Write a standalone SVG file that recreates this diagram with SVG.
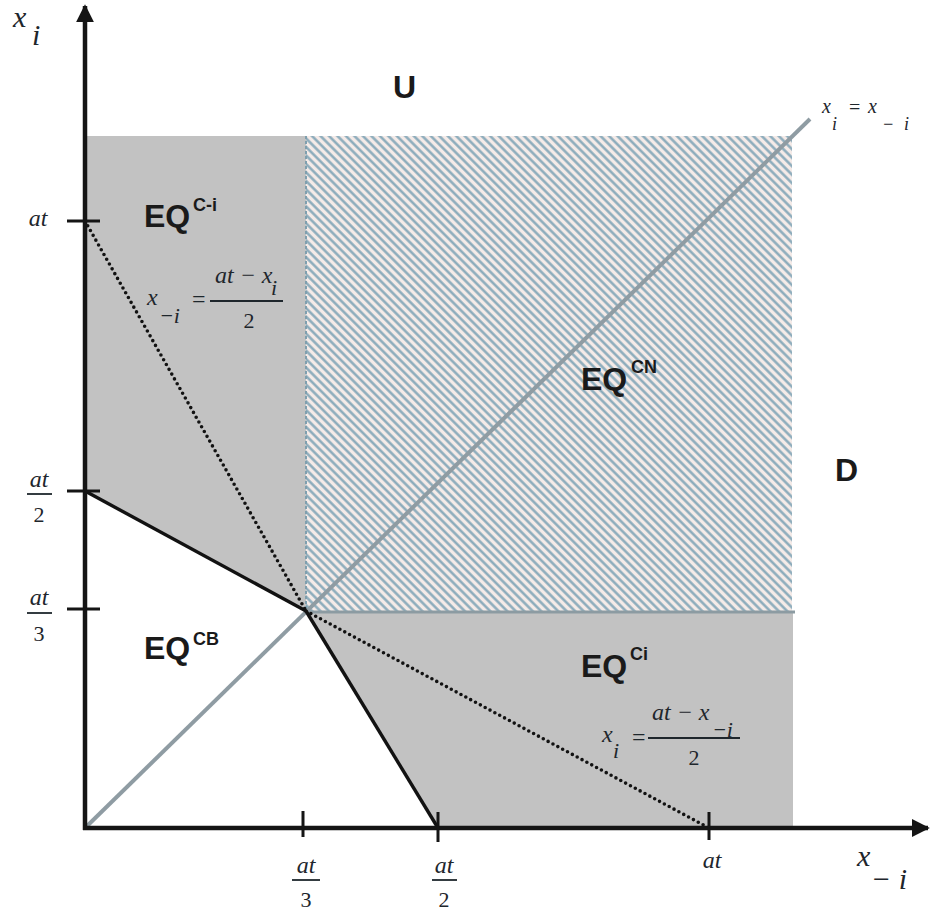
<svg xmlns="http://www.w3.org/2000/svg" width="932" height="915" viewBox="0 0 932 915">
<style>
.eq{font-family:"Liberation Sans",Arial,sans-serif;font-weight:bold;font-size:32px;fill:#1a1a1a}
.sup{font-family:"Liberation Sans",Arial,sans-serif;font-weight:bold;font-size:18px;fill:#1a1a1a}
.big{font-family:"Liberation Sans",Arial,sans-serif;font-weight:bold;font-size:32px;fill:#1a1a1a}
.m{font-family:"Liberation Serif","Times New Roman",serif;font-style:italic;fill:#1e262c}
.n{font-family:"Liberation Serif","Times New Roman",serif;fill:#1e262c}
.axis{stroke:#151515;stroke-width:4.5;fill:none}
.tick{stroke:#151515;stroke-width:3;fill:none}
.bar{stroke:#1e262c;stroke-width:1.8}
.solid{stroke:#121212;stroke-width:3.4;fill:none}
.dot{stroke:#121212;stroke-width:3.6;stroke-linecap:round;stroke-dasharray:0 5.5;fill:none}
.diag{stroke:#8f9ca3;stroke-width:4;fill:none}
.gray{fill:#c2c2c2}
</style>
<defs>
<pattern id="hatch" patternUnits="userSpaceOnUse" width="6" height="6" patternTransform="rotate(45)">
<rect width="6" height="6" fill="#f5ebe8"/>
<line x1="0" y1="1.5" x2="6" y2="1.5" stroke="#86a8b9" stroke-width="2.4"/>
</pattern>
<marker id="arr" viewBox="0 0 10 10" refX="9" refY="5" markerWidth="4" markerHeight="4" orient="auto" markerUnits="strokeWidth">
<path d="M0,0 L10,5 L0,10 z" fill="#151515"/>
</marker>
</defs>
<rect width="932" height="915" fill="#ffffff"/>
<g id="regions">
<polygon id="region-EQC-i" class="gray" points="85,136 306,136 306,611 85,491"/>
<polygon id="region-EQCi" class="gray" points="306,611 793,611 793,828 438,828"/>
<rect id="region-EQCN" x="306" y="136" width="486" height="475" fill="url(#hatch)"/>
<line x1="306" y1="136" x2="306" y2="611" stroke="#7f9fae" stroke-width="2" stroke-dasharray="3 2"/>
<line x1="306" y1="612" x2="795" y2="612" stroke="#8c9ba2" stroke-width="3"/>
</g>
<g id="connectors">
<line class="diag" x1="85" y1="828" x2="810" y2="119"/>
<line class="solid" x1="85" y1="491" x2="306" y2="611"/>
<line class="solid" x1="306" y1="611" x2="438" y2="828"/>
<line class="dot" x1="85" y1="221" x2="306" y2="611"/>
<line class="dot" x1="306" y1="611" x2="709" y2="828"/>
</g>
<g id="axes">
<line class="axis" x1="85" y1="830" x2="85" y2="6" marker-end="url(#arr)"/>
<line class="axis" x1="83" y1="828" x2="928" y2="828" marker-end="url(#arr)"/>
<line class="tick" x1="67" y1="221" x2="100" y2="221"/>
<line class="tick" x1="67" y1="491" x2="100" y2="491"/>
<line class="tick" x1="67" y1="609" x2="100" y2="609"/>
<line class="tick" x1="303" y1="811" x2="303" y2="837"/>
<line class="tick" x1="438" y1="812" x2="438" y2="842"/>
<line class="tick" x1="709" y1="812" x2="709" y2="840"/>
</g>
<g id="axis-labels">
<text class="m" x="13" y="27" font-size="30">x</text>
<text class="m" x="32" y="45" font-size="30">i</text>
<text class="m" x="857" y="866" font-size="30">x</text>
<text class="m" x="871" y="889" font-size="30" textLength="36" lengthAdjust="spacing">−i</text>
</g>
<g id="tick-labels">
<text class="m" x="38" y="226" font-size="24" text-anchor="middle">at</text>
<text class="m" x="39" y="487" font-size="24" text-anchor="middle">at</text>
<line class="bar" x1="27" y1="494" x2="52" y2="494"/>
<text class="n" x="39" y="522" font-size="22" text-anchor="middle">2</text>
<text class="m" x="39" y="605" font-size="24" text-anchor="middle">at</text>
<line class="bar" x1="27" y1="613" x2="52" y2="613"/>
<text class="n" x="39" y="641" font-size="22" text-anchor="middle">3</text>
<text class="m" x="306" y="873" font-size="24" text-anchor="middle">at</text>
<line class="bar" x1="292" y1="880" x2="320" y2="880"/>
<text class="n" x="306" y="907" font-size="22" text-anchor="middle">3</text>
<text class="m" x="444" y="873" font-size="24" text-anchor="middle">at</text>
<line class="bar" x1="432" y1="880" x2="457" y2="880"/>
<text class="n" x="444" y="907" font-size="22" text-anchor="middle">2</text>
<text class="m" x="712" y="868" font-size="24" text-anchor="middle">at</text>
</g>
<g id="region-labels">
<text class="big" x="393" y="98">U</text>
<text class="big" x="835" y="481">D</text>
<g id="label-EQC-i"><text class="eq" x="144" y="227">EQ</text><text class="sup" x="193" y="211">C-i</text></g>
<g id="label-EQCN"><text class="eq" x="581" y="390">EQ</text><text class="sup" x="631" y="373">CN</text></g>
<g id="label-EQCB"><text class="eq" x="144" y="659">EQ</text><text class="sup" x="193" y="645">CB</text></g>
<g id="label-EQCi"><text class="eq" x="581" y="677">EQ</text><text class="sup" x="630" y="660">Ci</text></g>
</g>
<g id="formulas">
<g id="formula-1">
<text class="m" x="147" y="305" font-size="24">x</text>
<text class="m" x="159" y="323" font-size="22">−i</text>
<text class="n" x="192" y="307" font-size="24">=</text>
<line class="bar" x1="210" y1="301" x2="283" y2="301"/>
<text class="m" x="215" y="283" font-size="24">at − x</text>
<text class="m" x="271" y="295" font-size="22">i</text>
<text class="n" x="249" y="328" font-size="22" text-anchor="middle">2</text>
</g>
<g id="formula-2">
<text class="m" x="602" y="742" font-size="24">x</text>
<text class="m" x="613" y="758" font-size="22">i</text>
<text class="n" x="632" y="745" font-size="24">=</text>
<line class="bar" x1="648" y1="738" x2="740" y2="738"/>
<text class="m" x="652" y="720" font-size="24">at − x</text>
<text class="m" x="712" y="737" font-size="22">−i</text>
<text class="n" x="694" y="765" font-size="22" text-anchor="middle">2</text>
</g>
<g id="formula-3">
<text class="m" x="822" y="113" font-size="20">x</text>
<text class="m" x="832" y="130" font-size="18">i</text>
<text class="n" x="849" y="114" font-size="20">=</text>
<text class="m" x="868" y="113" font-size="20">x</text>
<text class="m" x="882" y="130" font-size="18" textLength="27" lengthAdjust="spacing">−i</text>
</g>
</g>
</svg>
